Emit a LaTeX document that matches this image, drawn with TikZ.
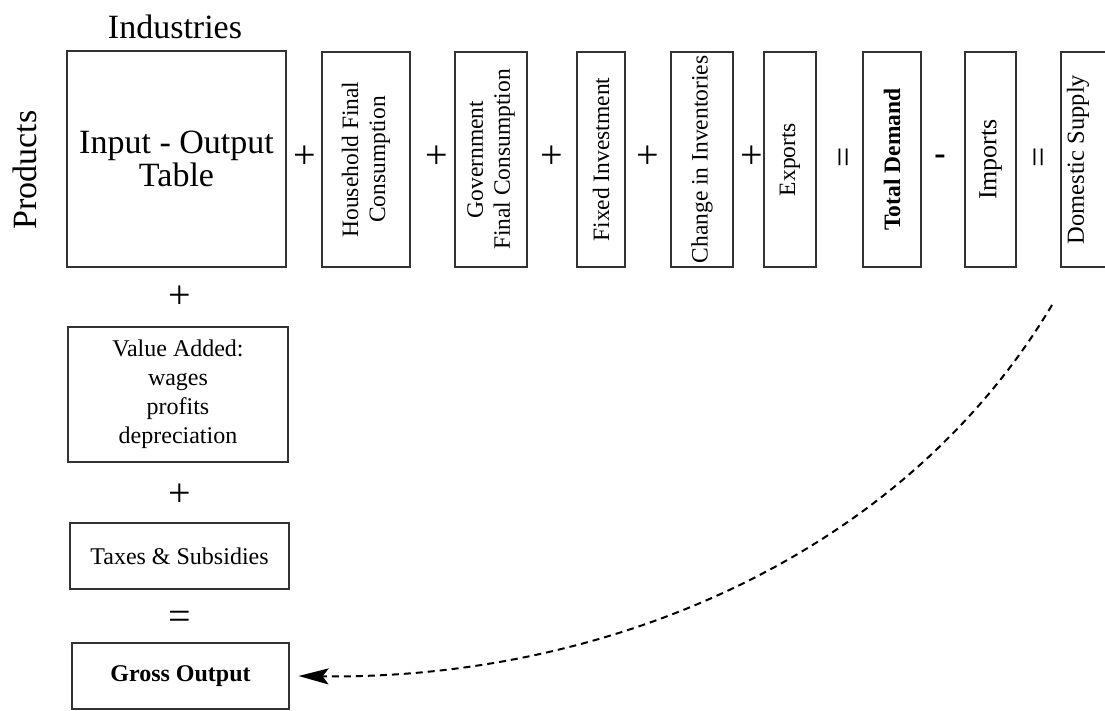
\documentclass[tikz,border=0pt]{standalone}
\usepackage{fontspec}
\setmainfont{Liberation Serif}
\usetikzlibrary{arrows.meta,positioning}
\tikzset{%
	block/.style    = {draw=black!80, line width=1.2pt, rectangle, inner sep=0pt, align=center},
	vblock/.style   = {block, rotate=90, font=\fontsize{23.5}{27}\selectfont}, % rotated column
	hblock/.style   = {block, font=\fontsize{24}{29}\selectfont}, % row below
	sign/.style     = {inner sep=0pt, font=\fontsize{40}{40}\selectfont}, % operator
	caption/.style  = {inner sep=0pt, font=\fontsize{34}{36}\selectfont},
	link/.style     = {dash pattern=on 7pt off 5pt, line width=2pt, -{Stealth[length=30pt,width=16pt,inset=6pt]}},
}

\begin{document}
\begin{tikzpicture}[x=1pt,y=-1pt]
	\useasboundingbox (0,0) rectangle (1105,711);
	\clip (0,0) rectangle (1105,711);
	% table and final demand columns
	\node [block,minimum width=219pt,minimum height=216pt,font=\fontsize{34}{33}\selectfont] (iot) at (176.5,159) {Input - Output\\Table};
	\node [caption] (ind) at (175,27) {Industries};
	\node [caption,rotate=90] (prod) at (25,170) {Products};
	\node [vblock,minimum width=215pt,minimum height=88pt] (hh) at (366,159.5) {Household Final\\Consumption};
	\node [vblock,minimum width=215pt,minimum height=72pt] (gov) at (491,159.5) {Government\\Final Consumption};
	\node [vblock,minimum width=215pt,minimum height=48pt] (inv) at (601,159.5) {Fixed Investment};
	\node [vblock,minimum width=215pt,minimum height=62pt] (stock) at (702,159.5) {Change in Inventories};
	\node [vblock,minimum width=215pt,minimum height=52pt] (exp) at (790,159.5) {Exports};
	\node [vblock,minimum width=215pt,minimum height=58pt,font=\fontsize{23.5}{27}\selectfont\bfseries] (td) at (892,159.5) {Total Demand};
	\node [vblock,minimum width=215pt,minimum height=51pt,font=\fontsize{26}{27}\selectfont] (imp) at (990.5,159.5) {Imports};
	\node [vblock,minimum width=215pt,minimum height=54pt] (dom) at (1088,159.5) {};
	\node [rotate=90,inner sep=0pt,font=\fontsize{24.5}{27}\selectfont] (domtext) at ([xshift=-10pt]dom.center) {Domestic Supply};
	% operators along the top row
	\foreach \x/\name in {305/p1,437/p2,552/p3,648/p4,752/p5}
		\node [sign] (\name) at (\x,157) {+};
	\node [sign,rotate=90,font=\fontsize{36}{36}\selectfont] (eq1) at (847,157) {=};
	\node [sign,rotate=90,font=\fontsize{36}{36}\selectfont] (eq2) at (1042,157) {=};
	\node [sign,font=\fontsize{34}{34}\selectfont\bfseries] (minus) at (940,160) {-};
	% value added column
	\node [sign] (p6) at (180,297) {+};
	\node [hblock,minimum width=220pt,minimum height=135pt] (va) at (178,394.5) {Value Added:\\wages\\profits\\depreciation};
	\node [sign] (p7) at (180,495) {+};
	\node [hblock,minimum width=219pt,minimum height=66pt] (tax) at (179.5,556) {Taxes \& Subsidies};
	\node [sign] (eq3) at (180,620) {=};
	\node [hblock,minimum width=217pt,minimum height=66pt,font=\fontsize{24}{29}\selectfont\bfseries] (gross) at (180.5,676) {Gross Output};
	% supply back to output
	\coordinate (tail) at (1052,305);
	\draw [link] (tail) .. controls (900,560) and (600,680) .. ([xshift=9pt]gross.east);
\end{tikzpicture}
\end{document}
